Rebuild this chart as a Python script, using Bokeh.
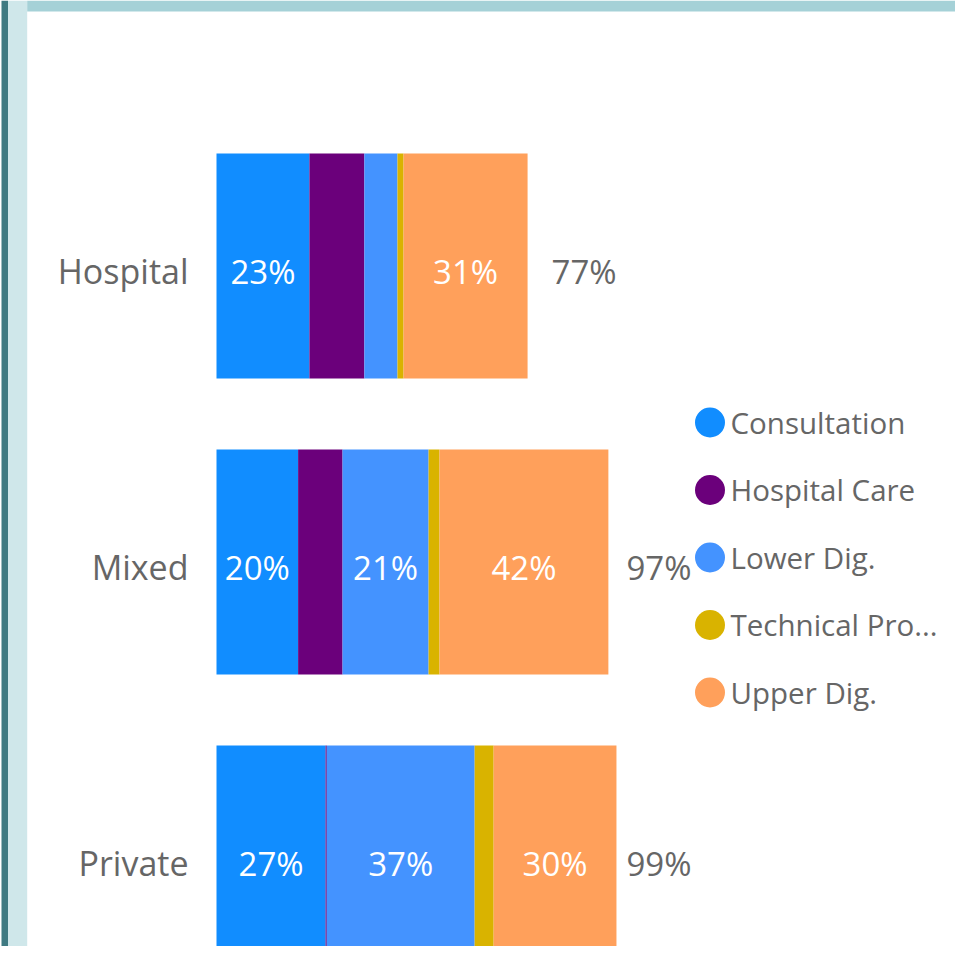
from bokeh.plotting import figure
from bokeh.models import Range1d, ColumnDataSource
from bokeh.core.properties import value
from bokeh.embed import file_html
from bokeh.resources import INLINE

# ---- data ----
categories = ["Hospital", "Mixed", "Private"]
series_names = ["Consultation", "Hospital Care", "Lower Dig.", "Technical Pro...", "Upper Dig."]
consultation = [23.0, 20.2, 27.0]
hospital_care = [13.6, 11.0, 0.3]
lower_dig = [8.2, 21.3, 36.6]
technical = [1.5, 2.7, 4.7]
upper_dig = [30.7, 41.8, 30.4]
colors = ["#118DFF", "#6B007B", "#4493FF", "#D9B300", "#FFA05B"]

# ---- layout constants (figure pixels) ----
W, H = 955, 946
X0 = 216.0      # pixel of 0%
S = 4.04        # pixels per percent
Y0 = 265.5      # pixel centre of first category
BAND = 296.0    # pixels per category
FONT = value("Open Sans")
GREY = "#666666"

def px2x(px):
    return (px - X0) / S

def py2y(py):
    return (py - Y0) / BAND

p = figure(width=W, height=H, output_backend="svg", toolbar_location=None,
           x_range=Range1d(px2x(0), px2x(W)), y_range=Range1d(py2y(H), py2y(0)),
           min_border=0, x_axis_location=None, y_axis_location=None)
p.outline_line_color = None
p.background_fill_color = "white"
p.border_fill_color = "white"
for g in p.grid:
    g.visible = False

# decorative frame (report page edges)
p.quad(left=[px2x(1)], right=[px2x(7.5)], top=[py2y(0)], bottom=[py2y(H)],
       fill_color="#3F7A82", line_color=None)
p.quad(left=[px2x(7.5)], right=[px2x(26.7)], top=[py2y(0)], bottom=[py2y(H)],
       fill_color="#CFE7EA", line_color=None)
p.quad(left=[px2x(26.7)], right=[px2x(W)], top=[py2y(0)], bottom=[py2y(11)],
       fill_color="#A5D1D7", line_color=None)

keys = ["s0", "s1", "s2", "s3", "s4"]
vals = [consultation, hospital_care, lower_dig, technical, upper_dig]
ys = list(range(len(categories)))
data = {"y": ys}
for k, v in zip(keys, vals):
    data[k] = v
src = ColumnDataSource(data)
p.hbar_stack(keys, y="y", height=0.76, color=colors, line_color=None, source=src)

# segment labels
lx, ly, lt = [], [], []
for i in ys:
    cum = 0.0
    for v in vals:
        seg = v[i]
        if seg * S >= 70:
            lx.append(cum + seg / 2)
            ly.append(i)
            lt.append(f"{round(seg)}%")
        cum += seg
p.text(x=lx, y=ly, text=lt, text_align="center", text_baseline="middle",
       text_color="white", text_font=FONT, text_font_size="33px", y_offset=5)

# total labels
totals = [sum(v[i] for v in vals) for i in ys]
cap = px2x(626)
tx = [min(t + 24 / S, cap) for t in totals]
p.text(x=tx, y=ys, text=[f"{round(t)}%" for t in totals], text_align="left",
       text_baseline="middle", text_color=GREY, text_font=FONT,
       text_font_size="33px", y_offset=5)

# category labels
p.text(x=[px2x(188)] * len(categories), y=ys, text=categories, text_align="right",
       text_baseline="middle", text_color=GREY, text_font=FONT,
       text_font_size="34px", y_offset=5)

# legend
leg_y = [py2y(422 + 67.5 * k) for k in range(len(series_names))]
p.scatter(x=[px2x(709.5)] * len(series_names), y=leg_y, size=30, marker="circle",
          fill_color=colors, line_color=None)
p.text(x=[px2x(730)] * len(series_names), y=leg_y, text=series_names,
       text_align="left", text_baseline="middle", text_color=GREY,
       text_font=FONT, text_font_size="29.5px", y_offset=-0.5)

open("out.html", "w").write(file_html(p, INLINE))
